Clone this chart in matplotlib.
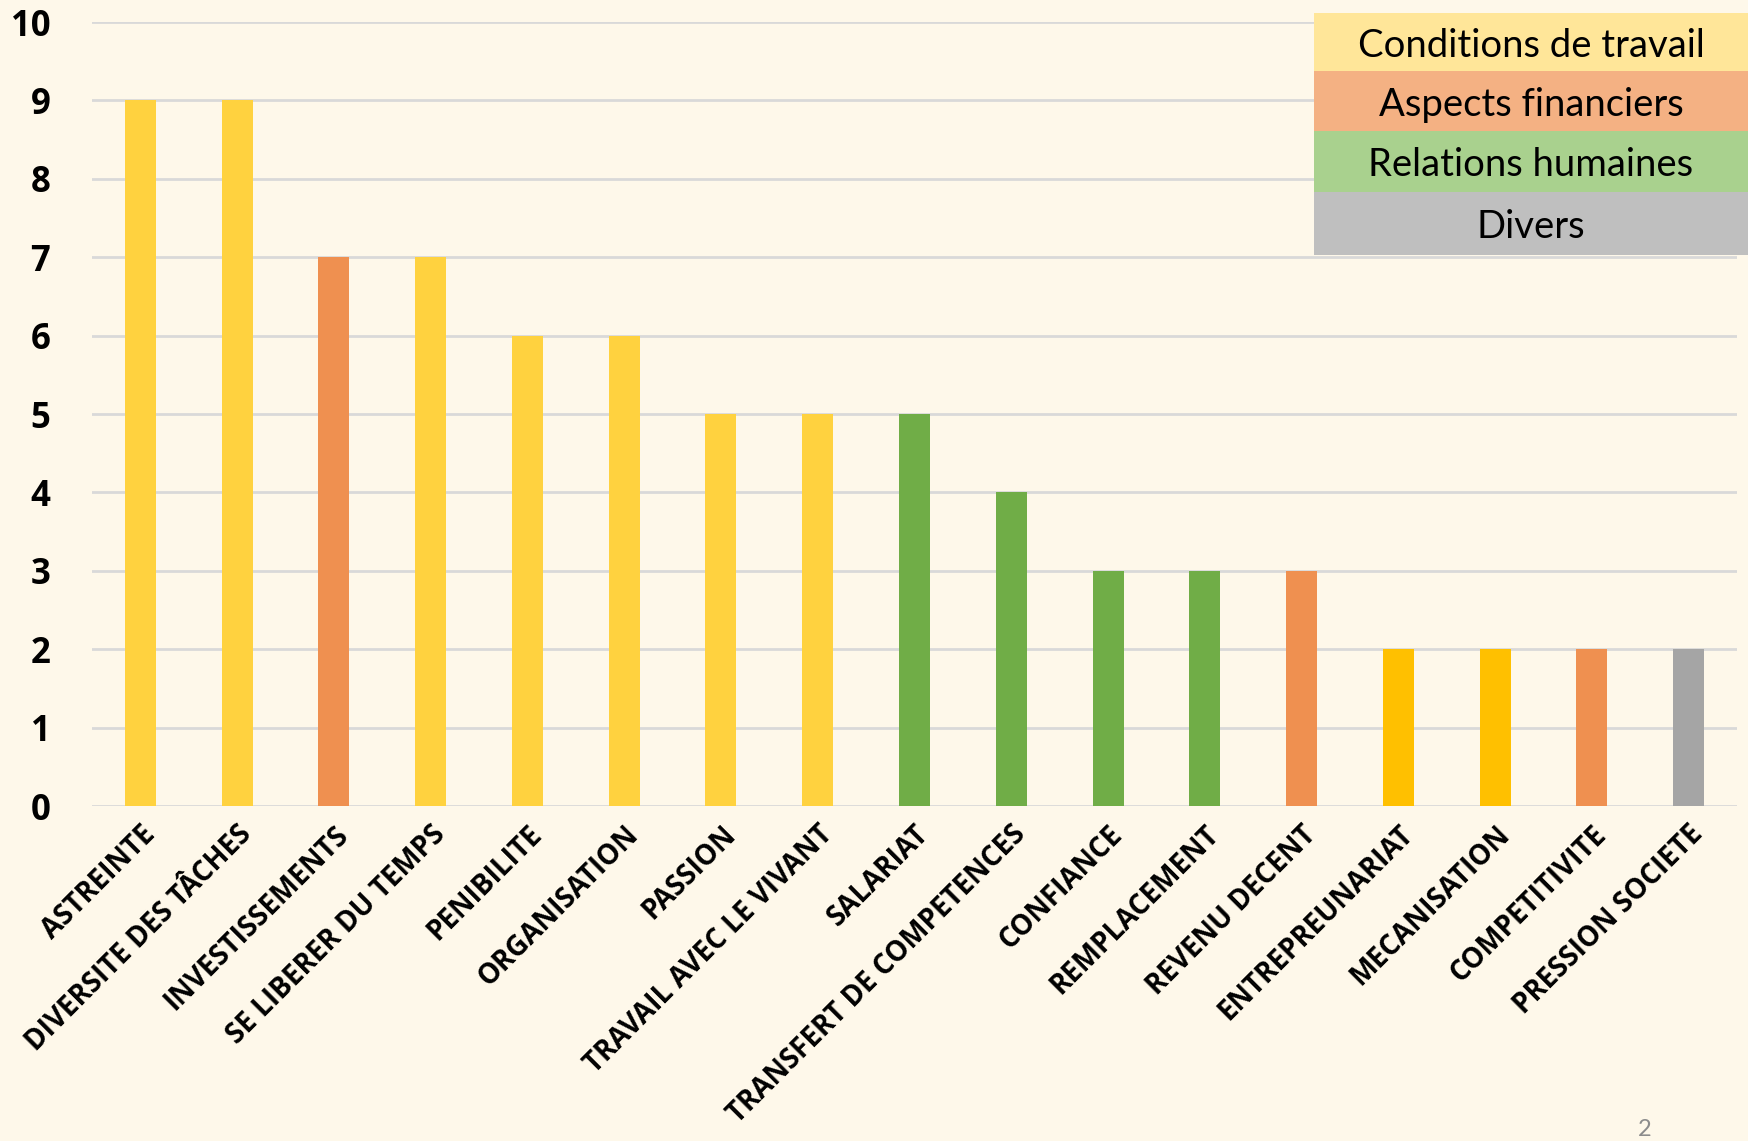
import matplotlib
matplotlib.use("Agg")
import matplotlib.pyplot as plt
from matplotlib.patches import Rectangle

categories = ["ASTREINTE", "DIVERSITE DES TÂCHES", "INVESTISSEMENTS", "SE LIBERER DU TEMPS",
              "PENIBILITE", "ORGANISATION", "PASSION", "TRAVAIL AVEC LE VIVANT", "SALARIAT",
              "TRANSFERT DE COMPETENCES", "CONFIANCE", "REMPLACEMENT", "REVENU DECENT",
              "ENTREPREUNARIAT", "MECANISATION", "COMPETITIVITE", "PRESSION SOCIETE"]
values = [9, 9, 7, 7, 6, 6, 5, 5, 5, 4, 3, 3, 3, 2, 2, 2, 2]
bar_colors = ["#FFD23F", "#FFD23F", "#EF9050", "#FFD23F", "#FFD23F", "#FFD23F", "#FFD23F",
              "#FFD23F", "#70AD47", "#70AD47", "#70AD47", "#70AD47", "#EF9050", "#FFC000",
              "#FFC000", "#EF9050", "#A5A5A5"]
legend_labels = ["Conditions de travail", "Aspects financiers", "Relations humaines", "Divers"]
legend_colors = ["#FFE699", "#F4B183", "#A9D18E", "#BFBFBF"]

bg = "#FEF8EA"
fig = plt.figure(figsize=(17.48, 11.41), dpi=100, facecolor=bg)
W, H = 1748, 1141
ax = fig.add_axes([92 / W, 1 - 806 / H, (1737 - 92) / W, (806 - 22) / H])
ax.set_facecolor(bg)

x = list(range(len(categories)))
ax.bar(x, values, width=0.32, color=bar_colors, zorder=3)
ax.set_xlim(-0.5, len(categories) - 0.5)
ax.set_ylim(0, 10)
ax.set_yticks(range(0, 11))
ax.yaxis.grid(True, color="#D9D9D9", linewidth=2, zorder=0)
for s in ax.spines.values():
    s.set_visible(False)
ax.tick_params(axis="both", length=0)
ax.tick_params(axis="y", pad=30)
for lab in ax.get_yticklabels():
    lab.set_fontfamily("Open Sans")
    lab.set_fontweight("bold")
    lab.set_fontsize(25)

ax.set_xticks(x)
ax.set_xticklabels(categories, rotation=45, ha="right", va="top", rotation_mode="anchor",
                   fontfamily="Open Sans", fontweight="bold", fontsize=20)
ax.tick_params(axis="x", pad=10)

# legend block, top right
rows = [(13, 71), (71, 131), (131, 192), (192, 255)]
for (y0, y1), lab, col in zip(rows, legend_labels, legend_colors):
    fig.patches.append(Rectangle((1314 / W, 1 - y1 / H), (1748 - 1314) / W, (y1 - y0) / H,
                                 transform=fig.transFigure, facecolor=col, edgecolor="none",
                                 zorder=5))
    fig.text((1314 + 1748) / 2 / W, 1 - ((y0 + y1) / 2 + 4) / H, lab, ha="center", va="center",
             fontfamily="Lato", fontsize=27.5, color="black", zorder=6)

fig.text(1645 / W, 1 - 1130 / H, "2", ha="center", va="center", fontsize=17, color="#8C8C8C",
         fontfamily="Lato")

fig.savefig("out.png", dpi=100, facecolor=bg)
